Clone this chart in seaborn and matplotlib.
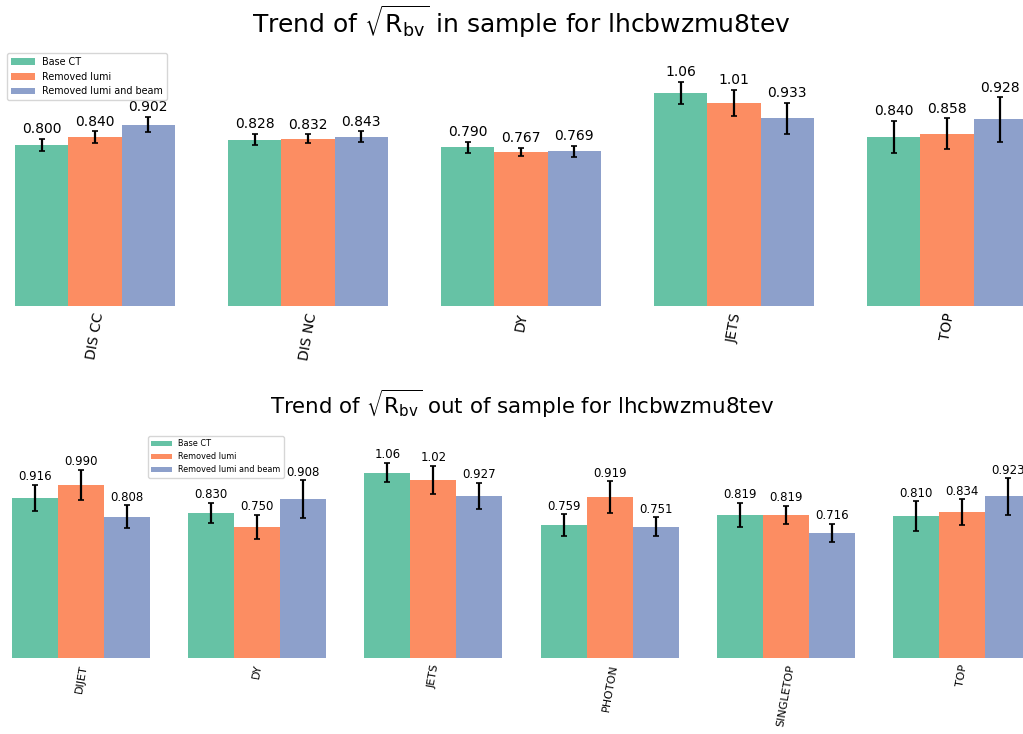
import matplotlib
matplotlib.use("Agg")
import matplotlib.pyplot as plt
import seaborn as sns
import pandas as pd

# Fit variants compared in every panel
fits = ["Base CT", "Removed lumi", "Removed lumi and beam"]

# In-sample processes
in_procs = ["DIS CC", "DIS NC", "DY", "JETS", "TOP"]
in_base = [0.800, 0.828, 0.790, 1.06, 0.840]
in_lumi = [0.840, 0.832, 0.767, 1.01, 0.858]
in_beam = [0.902, 0.843, 0.769, 0.933, 0.928]
in_base_err = [0.030, 0.028, 0.027, 0.056, 0.080]
in_lumi_err = [0.029, 0.022, 0.021, 0.064, 0.075]
in_beam_err = [0.037, 0.026, 0.026, 0.076, 0.110]

# Out-of-sample processes
out_procs = ["DIJET", "DY", "JETS", "PHOTON", "SINGLETOP", "TOP"]
out_base = [0.916, 0.830, 1.06, 0.759, 0.819, 0.810]
out_lumi = [0.990, 0.750, 1.02, 0.919, 0.819, 0.834]
out_beam = [0.808, 0.908, 0.927, 0.751, 0.716, 0.923]
out_base_err = [0.074, 0.057, 0.055, 0.064, 0.069, 0.087]
out_lumi_err = [0.087, 0.069, 0.080, 0.091, 0.051, 0.072]
out_beam_err = [0.064, 0.108, 0.074, 0.053, 0.052, 0.106]

sns.set_theme(style="white")
plt.rcParams["font.family"] = ["DejaVu Sans"]
plt.rcParams["text.color"] = "black"
plt.rcParams["xtick.color"] = "black"
plt.rcParams["xtick.labelcolor"] = "black"
palette = sns.color_palette("Set2", 3)

W, H = 1023, 734
fig = plt.figure(figsize=(W / 100, H / 100), dpi=100)


def px_axes(left, top, width, height):
    return fig.add_axes([left / W, 1 - (top + height) / H, width / W, height / H])


def draw_panel(ax, proc, vals, errs, ymax, label_size, tick_size, label_pad):
    df = pd.DataFrame({"process": [proc] * 3, "fit": fits, "value": vals})
    sns.barplot(data=df, x="process", y="value", hue="fit", hue_order=fits,
                palette=palette, saturation=1, errorbar=None, legend=False,
                linewidth=0, edgecolor="none", ax=ax)
    bars = [p for p in ax.patches]
    for bar, v, e in zip(bars, vals, errs):
        xc = bar.get_x() + bar.get_width() / 2
        ax.errorbar(xc, v, yerr=e, fmt="none", ecolor="black",
                    elinewidth=1.6, capsize=2, capthick=1.2)
        ax.annotate(f"{v:#.3g}", (xc, v + e), xytext=(0, label_pad),
                    textcoords="offset points", ha="center", va="bottom",
                    fontsize=label_size, color="black")
    ax.set_xlim(-0.4, 0.4)
    ax.set_ylim(0, ymax)
    ax.set_xlabel("")
    ax.set_ylabel("")
    ax.set_yticks([])
    ax.tick_params(axis="x", length=0, pad=4, labelsize=tick_size,
                   labelcolor="black")
    for lbl in ax.get_xticklabels():
        lbl.set_rotation(80)
    for s in ax.spines.values():
        s.set_visible(False)
    return bars


# Top row: in-sample
top_base_y, top_scale = 306, 201
for i, proc in enumerate(in_procs):
    ax = px_axes(15 + 213 * i, 50, 160, top_base_y - 50)
    bars = draw_panel(ax, proc, [in_base[i], in_lumi[i], in_beam[i]],
                      [in_base_err[i], in_lumi_err[i], in_beam_err[i]],
                      (top_base_y - 50) / top_scale, 10, 10, 2)
    if i == 0:
        top_handles = bars

fig.legend(top_handles, fits, loc="upper left",
           bbox_to_anchor=(7 / W, 1 - 53 / H), borderaxespad=0,
           fontsize=6.9, handlelength=2.5)

# Bottom row: out-of-sample
bot_base_y, bot_scale = 658, 175
for i, proc in enumerate(out_procs):
    ax = px_axes(12 + 176.2 * i, 430, 138, bot_base_y - 430)
    bars = draw_panel(ax, proc, [out_base[i], out_lumi[i], out_beam[i]],
                      [out_base_err[i], out_lumi_err[i], out_beam_err[i]],
                      (bot_base_y - 430) / bot_scale, 8.5, 8, 1)
    if i == 0:
        bot_handles = bars

fig.legend(bot_handles, fits, loc="upper left",
           bbox_to_anchor=(148 / W, 1 - 436 / H), borderaxespad=0,
           fontsize=5.9, handlelength=2.5)

fig.text(0.51, 1 - 22 / H,
         r"Trend of $\sqrt{\mathrm{R}_{\mathrm{bv}}}$ in sample for lhcbwzmu8tev",
         ha="center", va="center", fontsize=18)
fig.text(0.51, 1 - 404 / H,
         r"Trend of $\sqrt{\mathrm{R}_{\mathrm{bv}}}$ out of sample for lhcbwzmu8tev",
         ha="center", va="center", fontsize=15.4)

fig.savefig("out.png", dpi=100)
